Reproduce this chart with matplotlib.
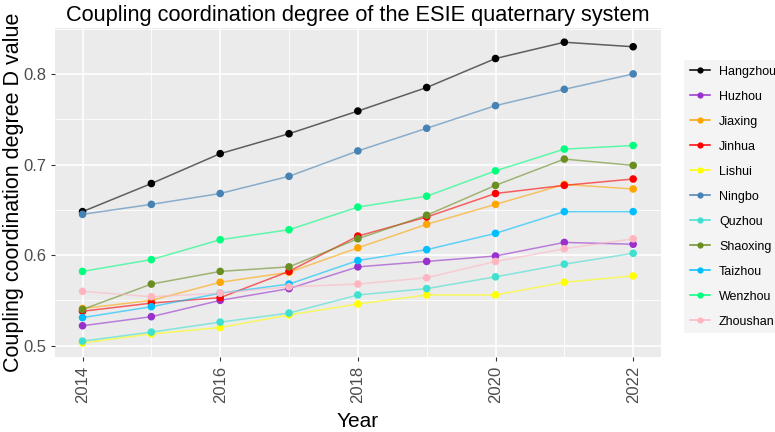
import matplotlib
matplotlib.use("Agg")
import matplotlib.pyplot as plt
from matplotlib.lines import Line2D
from matplotlib.ticker import MultipleLocator

plt.rcParams['font.family'] = ['Liberation Sans', 'DejaVu Sans']

years = [2014, 2015, 2016, 2017, 2018, 2019, 2020, 2021, 2022]
cities = ["Hangzhou", "Huzhou", "Jiaxing", "Jinhua", "Lishui", "Ningbo",
          "Quzhou", "Shaoxing", "Taizhou", "Wenzhou", "Zhoushan"]

hangzhou = [0.648, 0.679, 0.712, 0.734, 0.759, 0.785, 0.817, 0.835, 0.830]
huzhou   = [0.522, 0.532, 0.550, 0.563, 0.587, 0.593, 0.599, 0.614, 0.612]
jiaxing  = [0.541, 0.550, 0.570, 0.581, 0.608, 0.634, 0.656, 0.678, 0.673]
jinhua   = [0.538, 0.547, 0.553, 0.582, 0.621, 0.642, 0.668, 0.677, 0.684]
lishui   = [0.503, 0.513, 0.520, 0.534, 0.546, 0.556, 0.556, 0.570, 0.577]
ningbo   = [0.645, 0.656, 0.668, 0.687, 0.715, 0.740, 0.765, 0.783, 0.800]
quzhou   = [0.505, 0.515, 0.526, 0.536, 0.556, 0.563, 0.576, 0.590, 0.602]
shaoxing = [0.540, 0.568, 0.582, 0.587, 0.618, 0.644, 0.677, 0.706, 0.699]
taizhou  = [0.531, 0.543, 0.558, 0.568, 0.594, 0.606, 0.624, 0.648, 0.648]
wenzhou  = [0.582, 0.595, 0.617, 0.628, 0.653, 0.665, 0.693, 0.717, 0.721]
zhoushan = [0.560, 0.554, 0.558, 0.565, 0.568, 0.575, 0.593, 0.607, 0.618]

series = [hangzhou, huzhou, jiaxing, jinhua, lishui, ningbo,
          quzhou, shaoxing, taizhou, wenzhou, zhoushan]
colors = ["#000000", "#9932CC", "#FFA500", "#FF0000", "#FFFF00", "#4682B4",
          "#40E0D0", "#6B8E23", "#00BFFF", "#00FF7F", "#FFB6C1"]

fig = plt.figure(figsize=(7.75, 4.32), dpi=100)
ax = fig.add_axes([55/775, 1-357/432, (660.7-55)/775, (357-28)/432])
ax.set_facecolor("#EBEBEB")
for s in ax.spines.values():
    s.set_visible(False)

for vals, c in zip(series, colors):
    ax.plot(years, vals, color=c, lw=1.1, alpha=0.6, zorder=3)
    ax.scatter(years, vals, color=c, s=30, zorder=4, edgecolors='none')

ax.set_xlim(2013.6, 2022.4)
ax.set_ylim(0.4875, 0.8507)
ax.xaxis.set_major_locator(MultipleLocator(2))
ax.xaxis.set_minor_locator(MultipleLocator(1))
ax.yaxis.set_major_locator(MultipleLocator(0.1))
ax.yaxis.set_minor_locator(MultipleLocator(0.05))
ax.grid(which='major', color='white', lw=1.2, zorder=0)
ax.grid(which='minor', color='white', lw=0.6, zorder=0)
ax.set_axisbelow(True)
ax.tick_params(axis='both', which='major', length=3, width=0.8, color='#333333',
               labelcolor='#4D4D4D', labelsize=12)
ax.tick_params(axis='both', which='minor', length=0)
ax.set_yticks([0.5, 0.6, 0.7, 0.8])
ax.set_yticklabels(["0.5", "0.6", "0.7", "0.8"])
ax.set_xticks([2014, 2016, 2018, 2020, 2022])
ax.set_xticklabels(["2014", "2016", "2018", "2020", "2022"], rotation=90)

ax.set_xlabel("Year", fontsize=15, labelpad=6)
ax.set_ylabel("Coupling coordination degree D value", fontsize=15.5)
ax.yaxis.set_label_coords((24 - 55) / 605.7, 0.5)
ax.set_title("Coupling coordination degree of the ESIE quaternary system",
             fontsize=15.7, pad=5)

handles = [Line2D([0], [0], color=c, lw=1.1, marker='o', markersize=4.5,
                  markeredgewidth=0) for c in colors]
leg = fig.legend(handles, cities, loc='upper left',
                 bbox_to_anchor=(684/775, 1-60/432), frameon=True,
                 fontsize=9, handlelength=1.6, handletextpad=0.75,
                 labelspacing=1.04, borderpad=0.45, borderaxespad=0)
leg.get_frame().set_facecolor("#F2F2F2")
leg.get_frame().set_edgecolor("none")
leg.get_frame().set_boxstyle("square", pad=0)

fig.savefig("out.png", dpi=100)
